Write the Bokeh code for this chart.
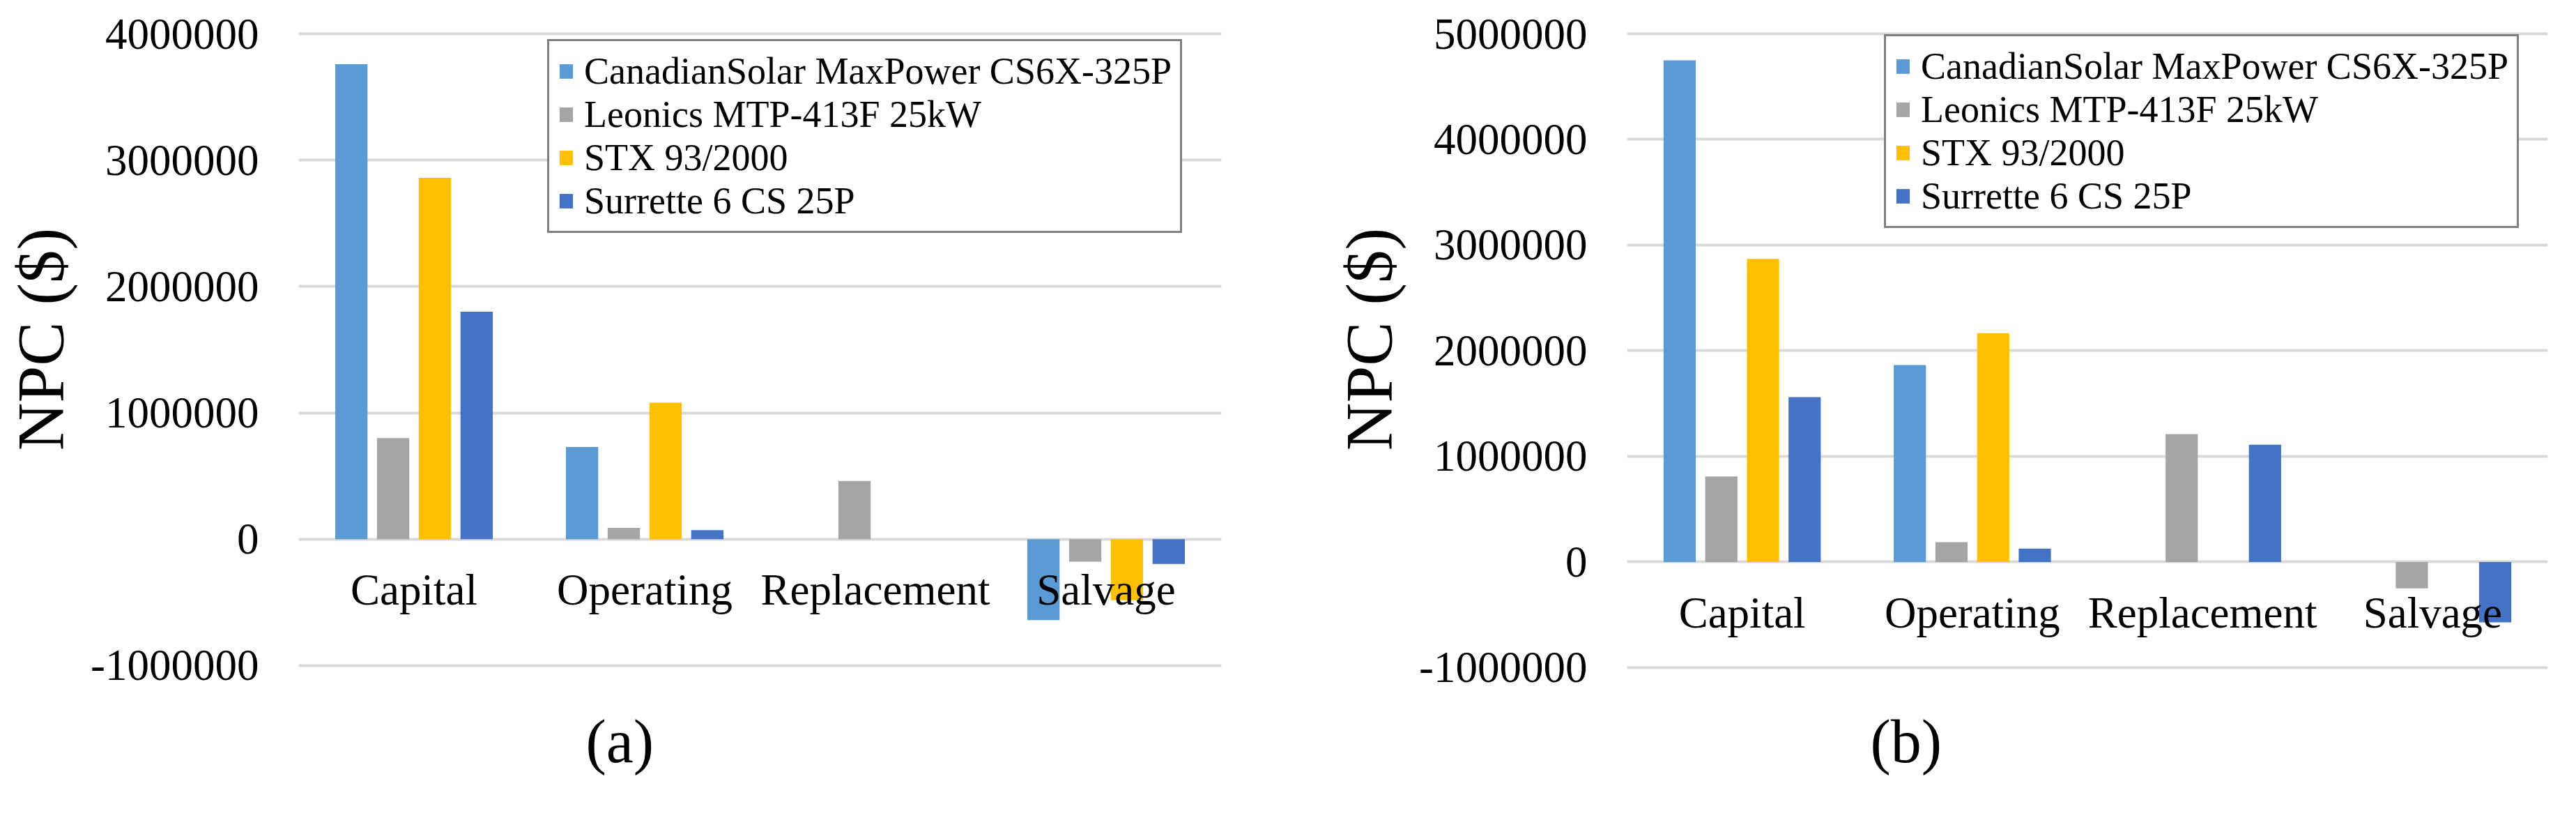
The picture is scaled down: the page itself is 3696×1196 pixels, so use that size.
from bokeh.plotting import figure
from bokeh.models import (ColumnDataSource, FixedTicker, NumeralTickFormatter,
                          Legend, LegendItem, Title, Range1d)
from bokeh.transform import dodge
from bokeh.layouts import row
from bokeh.embed import file_html
from bokeh.resources import INLINE

# ---------------- data ----------------
categories = ["Capital", "Operating", "Replacement", "Salvage"]
series = ["CanadianSolar MaxPower CS6X-325P", "Leonics MTP-413F 25kW",
          "STX 93/2000", "Surrette 6 CS 25P"]

# panel (a)
a_canadian = [3760000, 730000, 0, -640000]
a_leonics = [800000, 90000, 460000, -178000]
a_stx = [2860000, 1080000, 0, -483000]
a_surrette = [1800000, 72000, 0, -196000]
a_ticks = [-1000000, 0, 1000000, 2000000, 3000000, 4000000]

# panel (b)
b_canadian = [4750000, 1865000, 0, 0]
b_leonics = [810000, 187000, 1210000, -250000]
b_stx = [2870000, 2167000, 0, 0]
b_surrette = [1560000, 126000, 1110000, -572000]
b_ticks = [-1000000, 0, 1000000, 2000000, 3000000, 4000000, 5000000]

# ---------------- style ----------------
FONT = "Liberation Serif"
COLORS = ["#5B9BD5", "#A5A5A5", "#FFC000", "#4472C4"]
GRID = "#D9D9D9"
OFFSETS = [-0.2715, -0.0905, 0.0905, 0.2715]
BAR_W = 0.14


def make_panel(vals, ticks, y_start, y_end, tag, border_left, border_right,
               legend_loc, title_offset):
    src = ColumnDataSource(dict(cat=categories, s0=vals[0], s1=vals[1],
                                s2=vals[2], s3=vals[3]))
    p = figure(width=1840, height=1180, x_range=categories,
               y_range=Range1d(y_start, y_end),
               output_backend="svg", toolbar_location=None,
               min_border_left=border_left, min_border_right=border_right,
               min_border_top=0, min_border_bottom=208)
    p.outline_line_color = None
    p.background_fill_color = "white"
    p.border_fill_color = "white"

    renderers = []
    for i, col in enumerate(["s0", "s1", "s2", "s3"]):
        r = p.vbar(x=dodge("cat", OFFSETS[i], range=p.x_range), top=col,
                   bottom=0, width=BAR_W, source=src,
                   fill_color=COLORS[i], line_color=None)
        renderers.append(r)

    # grid
    p.xgrid.grid_line_color = None
    p.ygrid.ticker = FixedTicker(ticks=ticks)
    p.ygrid.grid_line_color = GRID
    p.ygrid.grid_line_width = 4

    # y axis
    ya = p.yaxis[0]
    ya.ticker = FixedTicker(ticks=ticks)
    ya.formatter = NumeralTickFormatter(format="0")
    ya.axis_line_color = None
    ya.major_tick_line_color = None
    ya.minor_tick_line_color = None
    ya.major_tick_in = 0
    ya.major_tick_out = 0
    ya.major_label_standoff = 57
    ya.major_label_text_font = FONT
    ya.major_label_text_font_size = "63px"
    ya.major_label_text_color = "black"
    ya.axis_label = "NPC ($)"
    ya.axis_label_text_font = FONT
    ya.axis_label_text_font_size = "95px"
    ya.axis_label_text_font_style = "normal"
    ya.axis_label_text_color = "black"
    ya.axis_label_standoff = 15

    # x axis at zero
    xa = p.xaxis[0]
    xa.fixed_location = 0
    xa.axis_line_color = None
    xa.major_tick_line_color = None
    xa.minor_tick_line_color = None
    xa.major_tick_in = 0
    xa.major_tick_out = 0
    xa.major_label_standoff = 38
    xa.major_label_text_font = FONT
    xa.major_label_text_font_size = "63px"
    xa.major_label_text_color = "black"

    legend = Legend(items=[LegendItem(label=series[i], renderers=[renderers[i]])
                           for i in range(4)],
                    location=legend_loc)
    legend.border_line_color = "black"
    legend.border_line_width = 3
    legend.background_fill_color = "white"
    legend.background_fill_alpha = 1
    legend.label_text_font = FONT
    legend.label_text_font_size = "54px"
    legend.label_text_color = "black"
    legend.label_height = 54
    legend.glyph_width = 24
    legend.glyph_height = 26
    legend.label_standoff = 14
    legend.spacing = 0
    legend.padding = 12
    legend.margin = 0
    p.add_layout(legend)

    t = Title(text=tag, align="left", offset=title_offset, standoff=80,
              text_font=FONT, text_font_size="88px",
              text_font_style="normal", text_color="black")
    p.add_layout(t, "below")
    return p


p1 = make_panel([a_canadian, a_leonics, a_stx, a_surrette], a_ticks,
                -1100000, 4265000, "(a)", 428, 88, (357, 638), 412)
p2 = make_panel([b_canadian, b_leonics, b_stx, b_surrette], b_ticks,
                -1100000, 5317000, "(b)", 494, 25, (369, 645), 349)

layout = row(p1, p2)
open("out.html", "w").write(file_html(layout, INLINE))
